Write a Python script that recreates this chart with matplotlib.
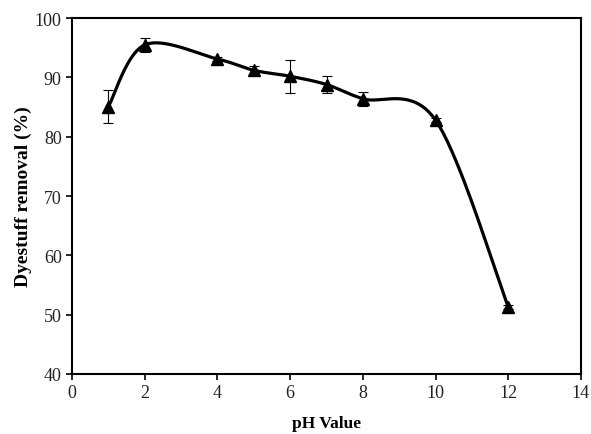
import matplotlib
matplotlib.use("Agg")
import matplotlib.pyplot as plt
import numpy as np

# values
ph = [1, 2, 4, 5, 6, 7, 8, 10, 12]
removal = [85.1, 95.5, 93.1, 91.2, 90.2, 88.8, 86.4, 82.8, 51.3]
err = [2.8, 1.2, 0.3, 0.8, 2.8, 1.5, 1.2, 0.3, 0.3]


def smooth_curve(x, y, n=40):
    # Excel-style smoothed line: cubic Bezier with Catmull-Rom control points
    x = np.asarray(x, float)
    y = np.asarray(y, float)
    pts = np.column_stack([x, y])
    out = []
    for i in range(len(pts) - 1):
        p0 = pts[i - 1] if i > 0 else pts[i]
        p1 = pts[i]
        p2 = pts[i + 1]
        p3 = pts[i + 2] if i + 2 < len(pts) else pts[i + 1]
        c1 = p1 + (p2 - p0) / 6.0
        c2 = p2 - (p3 - p1) / 6.0
        t = np.linspace(0, 1, n)[:, None]
        seg = ((1 - t) ** 3) * p1 + 3 * ((1 - t) ** 2) * t * c1 \
            + 3 * (1 - t) * t ** 2 * c2 + t ** 3 * p2
        out.append(seg if i == 0 else seg[1:])
    seg = np.vstack(out)
    return seg[:, 0], seg[:, 1]


plt.rcParams["font.family"] = ["Liberation Serif", "DejaVu Serif"]

fig = plt.figure(figsize=(5.91, 4.35), dpi=100)
ax = fig.add_axes([0.122, 0.138, 0.861, 0.818])

sx, sy = smooth_curve(ph, removal)
ax.plot(sx, sy, color="black", lw=2.3, zorder=2)
ax.errorbar(ph, removal, yerr=err, fmt="none", ecolor="black", elinewidth=0.8,
            capsize=3.5, capthick=0.8, zorder=3)
ax.plot(ph, removal, ls="none", marker="^", ms=8, color="black", zorder=4)

ax.set_xlim(0, 14)
ax.set_ylim(40, 100)
ax.set_xticks(np.arange(0, 15, 2))
ax.set_yticks(np.arange(40, 101, 10))
ax.tick_params(direction="out", length=4, width=1.2, labelsize=13,
               colors="black", labelcolor="#222222")
for s in ax.spines.values():
    s.set_linewidth(1.5)

ax.set_xlabel("pH Value", fontsize=12.5, fontweight="bold", labelpad=10)
ax.set_ylabel("Dyestuff removal (%)", fontsize=14, fontweight="bold", labelpad=2)

fig.savefig("out.png", dpi=100)
